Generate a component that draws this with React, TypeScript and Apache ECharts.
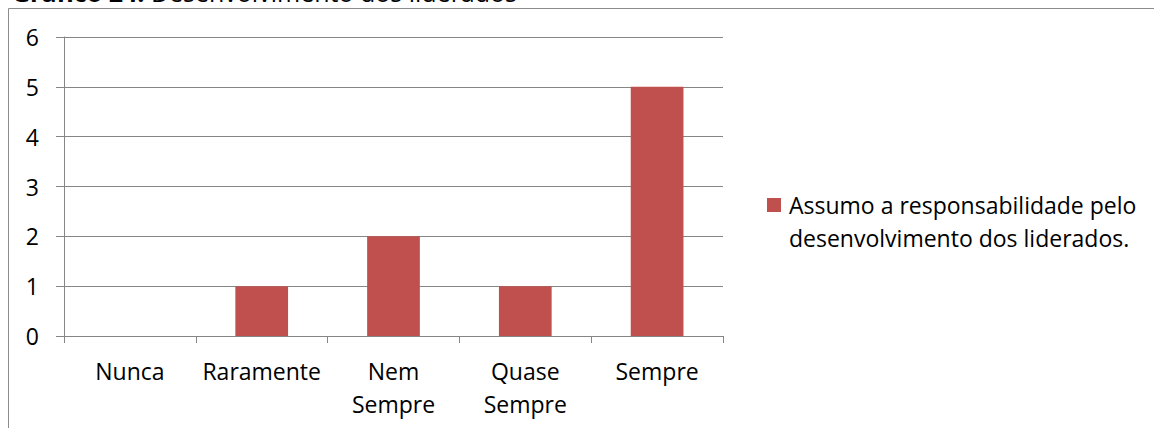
import React, { useEffect, useRef } from "react";
import * as echarts from "echarts";

// Frequency of answers per category
const categories: string[] = ["Nunca", "Raramente", "Nem\nSempre", "Quase\nSempre", "Sempre"];
const responses: number[] = [0, 1, 2, 1, 5];
const seriesName = "Assumo a responsabilidade pelo\ndesenvolvimento dos liderados.";
const titleBold = "Gráfico 24:";
const titleRest = " Desenvolvimento dos liderados";
const yMin = 0;
const yMax = 6;
const yStep = 1;

const FONT = "'Open Sans', 'Noto Sans', sans-serif";
const GRAY = "#868686";
const BAR = "#C0504D";

export default function App() {
  const ref = useRef<HTMLDivElement>(null);

  useEffect(() => {
    if (!ref.current) return;
    const chart = echarts.init(ref.current, undefined, { renderer: "svg" });
    chart.setOption({
      animation: false,
      backgroundColor: "#ffffff",
      textStyle: { fontFamily: FONT, color: "#000" },
      grid: { left: 64, right: 431, top: 37, bottom: 92 },
      xAxis: {
        type: "category",
        data: categories,
        axisLine: { lineStyle: { color: GRAY, width: 1 } },
        axisTick: { show: true, length: 7, lineStyle: { color: GRAY } },
        axisLabel: {
          interval: 0,
          margin: 18,
          fontSize: 23,
          lineHeight: 33,
          color: "#000",
          fontFamily: FONT,
        },
      },
      yAxis: {
        type: "value",
        min: yMin,
        max: yMax,
        interval: yStep,
        axisLine: { show: true, lineStyle: { color: GRAY, width: 1 } },
        axisTick: { show: true, length: 8, lineStyle: { color: GRAY } },
        splitLine: { show: true, lineStyle: { color: GRAY, width: 1 } },
        axisLabel: { margin: 25, fontSize: 23, color: "#000", fontFamily: FONT },
      },
      legend: {
        show: true,
        orient: "vertical",
        left: 767,
        top: 155.5,
        padding: 0,
        itemWidth: 14,
        itemHeight: 14,
        icon: "rect",
        data: [seriesName],
        // a leading blank line keeps the first text line level with the swatch
        formatter: (name: string) => "\n" + name,
        textStyle: {
          fontSize: 23,
          lineHeight: 33,
          color: "#000",
          fontFamily: FONT,
          padding: [0, 0, 0, 3],
        },
      },
      series: [
        {
          name: seriesName,
          type: "bar",
          data: responses,
          barWidth: "40%",
          itemStyle: { color: BAR },
        },
      ],
      graphic: [
        {
          type: "polyline",
          silent: true,
          shape: { points: [[8.5, 428], [8.5, 8.5], [1154, 8.5]] },
          style: { stroke: "#8c8c8c", lineWidth: 1, fill: "none" },
        },
        {
          type: "text",
          left: 12,
          top: -21,
          silent: true,
          style: {
            text: "{b|" + titleBold + "}" + titleRest,
            font: "25px " + FONT,
            fill: "#000",
            rich: {
              b: { fontWeight: "bold", fontSize: 25, fontFamily: FONT, fill: "#000" },
            },
          },
        },
      ],
    });
    return () => chart.dispose();
  }, []);

  return (
    <div
      ref={ref}
      style={{ position: "absolute", left: 0, top: 0, width: 1154, height: 428 }}
    />
  );
}
